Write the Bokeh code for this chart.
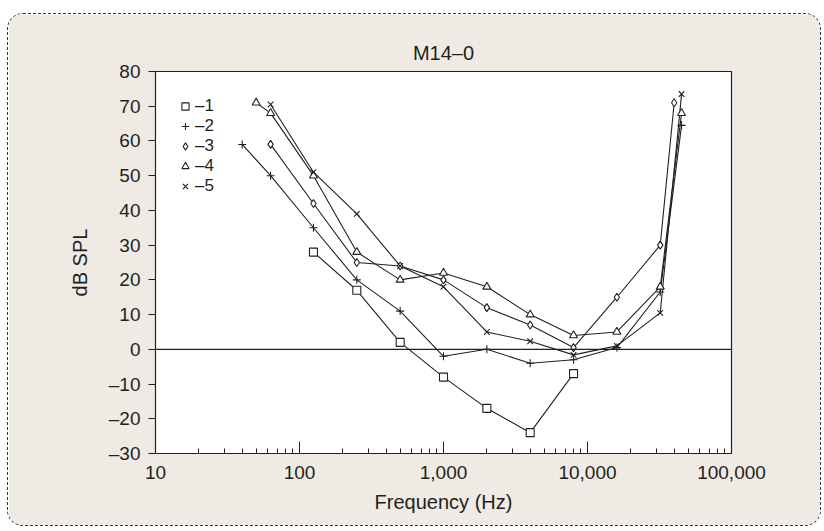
from bokeh.plotting import figure
from bokeh.models import Span, Legend, LegendItem, FixedTicker, NumeralTickFormatter, Range1d
from bokeh.embed import file_html
from bokeh.resources import INLINE

# ---- data ----
freq_1 = [125, 250, 500, 1000, 2000, 4000, 8000]
spl_1 = [28, 17, 2, -8, -17, -24, -7]
freq_2 = [40, 63, 125, 250, 500, 1000, 2000, 4000, 8000, 16000, 32000, 45000]
spl_2 = [59, 50, 35, 20, 11, -2, 0, -4, -3, 0.5, 16.5, 64.5]
freq_3 = [63, 125, 250, 500, 1000, 2000, 4000, 8000, 16000, 32000, 40000]
spl_3 = [59, 42, 25, 24, 20, 12, 7, 0.5, 15, 30, 71]
freq_4 = [50, 63, 125, 250, 500, 1000, 2000, 4000, 8000, 16000, 32000, 45000]
spl_4 = [71, 68, 50, 28, 20, 22, 18, 10, 4, 5, 18, 68]
freq_5 = [63, 125, 250, 500, 1000, 2000, 4000, 8000, 16000, 32000, 45000]
spl_5 = [70.5, 51, 39, 24, 18, 5, 2.3, -1.6, 1, 10.5, 73.5]

series_labels = ["\u20131", "\u20132", "\u20133", "\u20134", "\u20135"]
series_markers = ["square", "cross", "diamond", "triangle", "x"]

x_ticks = [10, 100, 1000, 10000, 100000]
x_minor_ticks = [m * 10 ** e for e in range(1, 5) for m in range(2, 10)]
y_ticks = [-30, -20, -10, 0, 10, 20, 30, 40, 50, 60, 70, 80]
y_tick_labels = ["\u201330", "\u201320", "\u201310", "0", "10", "20", "30", "40", "50", "60", "70", "80"]

title_text = "M14\u20130"
x_label = "Frequency (Hz)"
y_label = "dB SPL"

FONT = "Liberation Sans"
INK = "#231f20"
BEIGE = "#efebe4"

p = figure(width=814, height=513, x_axis_type="log",
           x_range=Range1d(10, 100000), y_range=Range1d(-30, 80),
           output_backend="svg", toolbar_location=None,
           min_border_left=147, min_border_right=91,
           min_border_top=57, min_border_bottom=74,
           title=title_text)

p.styles = {"position": "relative", "top": "13px", "left": "7px",
            "border": "1px dashed #333", "border-radius": "16px",
            "overflow": "hidden"}

p.background_fill_color = "white"
p.border_fill_color = BEIGE
p.outline_line_color = INK
p.outline_line_width = 1.2
p.xgrid.visible = False
p.ygrid.visible = False

p.title.align = "center"
p.title.offset = 4
p.title.padding = 3
p.title.text_font = FONT
p.title.text_font_size = "20px"
p.title.text_font_style = "normal"
p.title.text_color = INK

xa = p.xaxis[0]
xa.ticker = FixedTicker(ticks=x_ticks, minor_ticks=x_minor_ticks)
xa.formatter = NumeralTickFormatter(format="0,0")
xa.major_tick_in = 12
xa.major_tick_out = 0
xa.minor_tick_in = 5
xa.minor_tick_out = 0
xa.major_label_standoff = 12
xa.axis_label = x_label
xa.axis_label_standoff = 9

ya = p.yaxis[0]
ya.ticker = FixedTicker(ticks=y_ticks)
ya.major_label_overrides = {t: lab for t, lab in zip(y_ticks, y_tick_labels)}
ya.major_tick_in = 0
ya.major_tick_out = 7
ya.minor_tick_line_color = None
ya.major_label_standoff = 8
ya.axis_label = y_label
ya.axis_label_standoff = 15

for ax in (xa, ya):
    ax.axis_line_color = INK
    ax.major_tick_line_color = INK
    ax.minor_tick_line_color = INK if ax is xa else None
    ax.major_label_text_font = FONT
    ax.major_label_text_font_size = "19px"
    ax.major_label_text_color = INK
    ax.axis_label_text_font = FONT
    ax.axis_label_text_font_size = "20px"
    ax.axis_label_text_font_style = "normal"
    ax.axis_label_text_color = INK

p.add_layout(Span(location=0, dimension="width", line_color=INK, line_width=1.2))

freqs = [freq_1, freq_2, freq_3, freq_4, freq_5]
spls = [spl_1, spl_2, spl_3, spl_4, spl_5]

marker_renderers = []
for f, s in zip(freqs, spls):
    p.line(f, s, line_color=INK, line_width=1.1)
for f, s, mk in zip(freqs, spls, series_markers):
    r = p.scatter(f, s, marker=mk, size=8, line_color=INK, line_width=1.1,
                  fill_color="white")
    marker_renderers.append(r)

# one single-row legend per series, so the rows can sit close together
ROW_GAP = 20
FIRST_ROW_Y = 337
for i, (lab, r) in enumerate(zip(series_labels, marker_renderers)):
    lg = Legend(items=[LegendItem(label=lab, renderers=[r])],
                location=(21, FIRST_ROW_Y - i * ROW_GAP),
                background_fill_alpha=0, border_line_color=None,
                label_text_font=FONT, label_text_font_size="17px",
                label_text_color=INK, glyph_width=18, glyph_height=18,
                label_height=18, label_standoff=1, spacing=0,
                padding=0, margin=0)
    p.add_layout(lg)

open("out.html", "w").write(file_html(p, INLINE))
